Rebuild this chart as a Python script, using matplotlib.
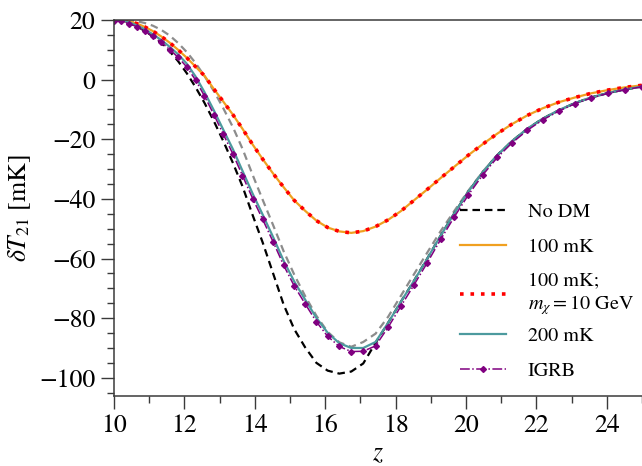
import matplotlib
matplotlib.use("Agg")
import matplotlib.pyplot as plt
from matplotlib.ticker import MultipleLocator

# Redshift grid shared by every model curve
z = [10.00, 10.21, 10.43, 10.65, 10.87, 11.10, 11.34, 11.58, 11.82, 12.07,
     12.32, 12.57, 12.84, 13.10, 13.38, 13.65, 13.94, 14.22, 14.52, 14.82,
     15.12, 15.43, 15.75, 16.07, 16.40, 16.74, 17.08, 17.43, 17.79, 18.15,
     18.52, 18.90, 19.28, 19.67, 20.07, 20.48, 20.89, 21.31, 21.74, 22.18,
     22.63, 23.09, 23.55, 24.03, 24.51, 25.00]

# 21-cm brightness temperature [mK]
no_dm = [20.0, 19.7, 19.0, 17.9, 16.4, 14.5, 12.3, 9.5, 6.2, 2.1,
         -2.6, -7.8, -14.0, -20.5, -28.0, -35.8, -45.5, -54.5, -65.0, -75.5,
         -83.7, -89.8, -95.0, -97.6, -98.6, -97.9, -95.2, -88.3, -81.5, -74.5,
         -67.5, -60.0, -52.3, -44.8, -37.5, -31.0, -25.3, -20.6, -16.5, -13.1,
         -10.3, -7.9, -6.0, -4.5, -3.3, -2.3]

reference = [20.0, 20.0, 19.9, 19.6, 19.0, 18.1, 16.7, 14.8, 12.3, 9.2,
             5.5, 1.2, -3.9, -9.5, -16.0, -23.2, -32.0, -40.2, -48.8, -57.6,
             -65.4, -72.6, -79.2, -84.6, -88.1, -89.6, -88.0, -85.2, -79.5, -72.5,
             -65.3, -58.0, -50.8, -44.0, -37.2, -30.8, -25.3, -20.6, -16.5, -13.1,
             -10.3, -7.9, -6.0, -4.5, -3.3, -2.3]

t100 = [20.0, 19.9, 19.5, 18.8, 17.7, 16.3, 14.5, 12.4, 10.0, 7.3,
        4.3, 1.3, -3.2, -7.3, -11.8, -16.5, -21.8, -26.6, -31.5, -36.1,
        -40.5, -44.0, -47.3, -49.6, -50.9, -51.4, -50.8, -49.3, -47.0, -44.1,
        -40.5, -36.8, -33.0, -29.2, -25.3, -21.6, -18.1, -14.9, -12.0, -9.6,
        -7.6, -6.0, -4.6, -3.5, -2.6, -1.9]

t100_10gev = [20.0, 19.9, 19.5, 18.8, 17.7, 16.3, 14.5, 12.4, 10.0, 7.3,
              4.3, 1.3, -3.2, -7.3, -11.8, -16.5, -21.8, -26.6, -31.5, -36.1,
              -40.5, -44.0, -47.3, -49.6, -50.9, -51.4, -50.8, -49.3, -47.0, -44.1,
              -40.5, -36.8, -33.0, -29.2, -25.3, -21.6, -18.1, -14.9, -12.0, -9.6,
              -7.6, -6.0, -4.6, -3.5, -2.6, -1.9]

t200 = [20.0, 19.8, 19.2, 18.2, 16.9, 15.2, 13.3, 11.0, 8.5, 5.3,
        1.0, -4.2, -10.4, -16.7, -23.4, -30.6, -38.3, -45.2, -52.8, -60.8,
        -67.7, -73.8, -79.9, -84.9, -88.4, -90.0, -90.0, -88.0, -81.5, -74.5,
        -67.5, -60.0, -52.3, -44.8, -37.5, -31.0, -25.3, -20.6, -16.5, -13.1,
        -10.3, -7.9, -6.0, -4.5, -3.3, -2.3]

igrb = [19.8, 19.5, 18.8, 17.7, 16.3, 14.5, 12.5, 10.1, 7.5, 4.2,
        -0.2, -5.5, -11.8, -18.2, -25.0, -32.2, -39.9, -46.8, -54.4, -62.3,
        -69.2, -75.2, -81.2, -86.1, -89.5, -91.2, -91.1, -89.3, -83.0, -76.0,
        -68.9, -61.4, -53.6, -46.0, -38.6, -31.9, -26.1, -21.2, -17.0, -13.5,
        -10.6, -8.1, -6.2, -4.6, -3.4, -2.4]

labels = ["No DM", "100 mK", "100 mK;\n$m_\\chi = 10$ GeV", "200 mK", "IGRB"]

plt.rcParams["font.family"] = ["STIXGeneral", "DejaVu Serif"]
plt.rcParams["mathtext.fontset"] = "stix"

fig = plt.figure(figsize=(6.42, 4.66), dpi=100)
ax = fig.add_axes([0.1776, 0.1509, 0.8224, 0.8062])

dash = (0, (3.4, 2.2))
ax.plot(z, reference, color="#8c8c8c", lw=1.6, ls=dash)
h0, = ax.plot(z, no_dm, color="black", lw=1.6, ls=dash, label=labels[0])
h1, = ax.plot(z, t100, color="#f0a020", lw=1.6, label=labels[1])
h2, = ax.plot(z, t100_10gev, color="#ff0000", lw=2.6, ls=(0, (1, 1.9)),
              label=labels[2])
h3, = ax.plot(z, t200, color="#4c9a9e", lw=1.6, label=labels[3])
h4, = ax.plot(z, igrb, color="#800080", lw=1.1, ls="-.", marker="D", ms=3.0,
              label=labels[4])

ax.set_xlim(10, 25)
ax.set_ylim(-106, 20)
ax.xaxis.set_major_locator(MultipleLocator(2))
ax.xaxis.set_minor_locator(MultipleLocator(1))
ax.yaxis.set_major_locator(MultipleLocator(20))
ax.yaxis.set_minor_locator(MultipleLocator(5))

spine_col = "#3a3a3a"
for side in ("left", "bottom", "top"):
    ax.spines[side].set_color(spine_col)
    ax.spines[side].set_linewidth(1.1)
ax.spines["right"].set_visible(False)
ax.tick_params(which="both", direction="out", color=spine_col, width=1.0,
               labelsize=18.5, top=False, right=False)
ax.tick_params(which="major", length=9.5, pad=4)
ax.tick_params(which="minor", length=5)

ax.set_xlabel("$z$", fontsize=18.5, labelpad=2.5)
ax.set_ylabel("$\\delta T_{21}$ [mK]", fontsize=18.5, labelpad=4)

leg_kw = dict(loc="upper left", frameon=False, fontsize=14.5, handlelength=2.25,
              handletextpad=1.1, labelspacing=0.82, borderpad=0, borderaxespad=0)
leg_top = ax.legend(handles=[h0, h1, h2], bbox_to_anchor=(0.656, 0.512), **leg_kw)
ax.add_artist(leg_top)
ax.legend(handles=[h3, h4], bbox_to_anchor=(0.656, 0.183), **leg_kw)

fig.savefig("out.png", dpi=100)
